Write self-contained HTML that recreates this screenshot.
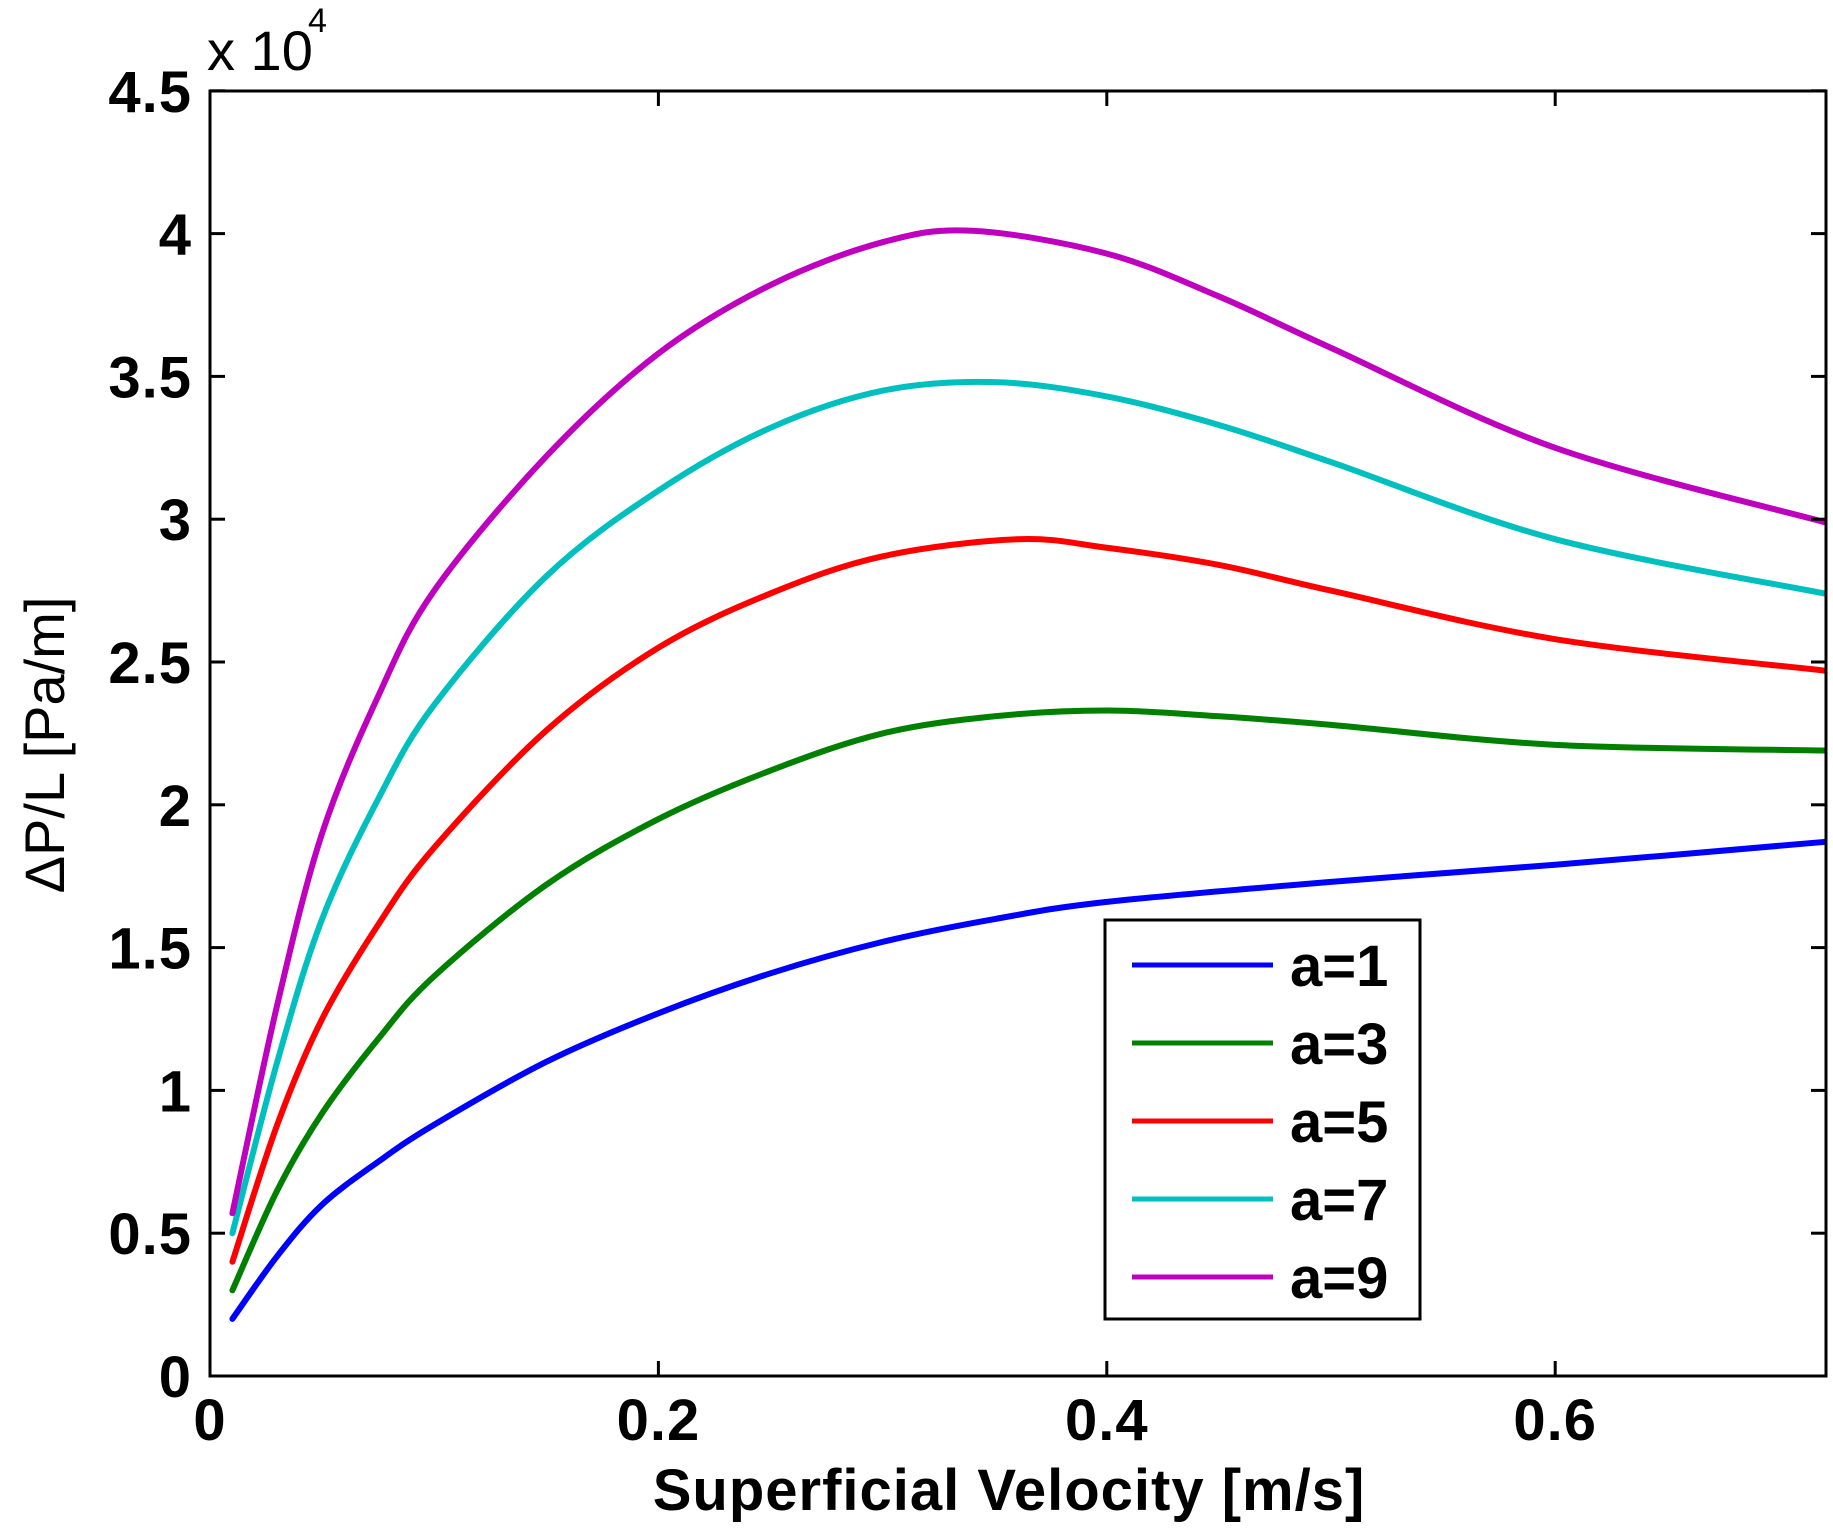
<!DOCTYPE html>
<html><head><meta charset="utf-8"><style>
html,body{margin:0;padding:0;background:#fff;}
svg{display:block;font-family:"Liberation Sans",Arial,sans-serif;}
text{font-weight:bold;}
</style></head><body>
<svg id="s" width="1833" height="1528" viewBox="0 0 1833 1528" xmlns="http://www.w3.org/2000/svg">
<rect width="1833" height="1528" fill="#fff"/>
<g id="curves" fill="none" stroke-width="6" stroke-linejoin="round" stroke-linecap="round"></g>
<rect x="210" y="91" width="1616" height="1285" fill="none" stroke="#000" stroke-width="3"/>
<g id="ticks" stroke="#000" stroke-width="3"></g>
<g id="labels" font-size="58" fill="#000"></g>
<text x="207" y="70" font-size="56" style="font-weight:normal">x 10</text>
<text x="308" y="32" font-size="34" style="font-weight:normal">4</text>
<text x="1009" y="1510" font-size="58" text-anchor="middle" letter-spacing="1">Superficial Velocity [m/s]</text>
<text transform="translate(64,745) rotate(-90)" font-size="56" text-anchor="middle" style="font-weight:normal">ΔP/L [Pa/m]</text>
<rect x="1105" y="920" width="315" height="399" fill="#fff" stroke="#000" stroke-width="3"/>
<g id="leg" font-size="58"></g>
</svg>
<script>
var X=function(v){return 210+v*2242;},Y=function(v){return 1376-v*285.6;};
var data=[
["#0000ff",[[0.01,0.2],[0.03,0.42],[0.05,0.6],[0.075,0.75],[0.1,0.88],[0.15,1.1],[0.2,1.27],[0.25,1.41],[0.3,1.52],[0.35,1.6],[0.4,1.66],[0.5,1.73],[0.6,1.79],[0.72,1.87]]],
["#008000",[[0.01,0.3],[0.03,0.65],[0.05,0.92],[0.075,1.18],[0.1,1.4],[0.15,1.72],[0.2,1.95],[0.25,2.12],[0.3,2.25],[0.35,2.31],[0.4,2.33],[0.45,2.31],[0.5,2.28],[0.6,2.21],[0.72,2.19]]],
["#ff0000",[[0.01,0.4],[0.03,0.88],[0.05,1.25],[0.075,1.58],[0.1,1.85],[0.15,2.26],[0.2,2.55],[0.25,2.74],[0.3,2.87],[0.36,2.93],[0.4,2.9],[0.45,2.84],[0.5,2.75],[0.6,2.58],[0.72,2.47]]],
["#00bfbf",[[0.01,0.5],[0.03,1.1],[0.05,1.6],[0.075,2.02],[0.1,2.35],[0.15,2.8],[0.2,3.1],[0.25,3.32],[0.3,3.45],[0.35,3.48],[0.4,3.43],[0.45,3.33],[0.5,3.2],[0.6,2.93],[0.72,2.74]]],
["#bf00bf",[[0.01,0.57],[0.03,1.3],[0.05,1.9],[0.075,2.38],[0.1,2.75],[0.15,3.22],[0.2,3.58],[0.25,3.82],[0.3,3.97],[0.34,4.01],[0.4,3.93],[0.45,3.78],[0.5,3.6],[0.6,3.25],[0.72,2.99]]]];
var ns="http://www.w3.org/2000/svg",cg=document.getElementById("curves");
data.forEach(function(d){var p=d[1].map(function(q){return [X(q[0]),Y(q[1])];});
var s="M"+p[0][0]+","+p[0][1];
for(var i=0;i<p.length-1;i++){var a=p[i-1]||p[i],b=p[i],c=p[i+1],e=p[i+2]||c;
s+=" C"+(b[0]+(c[0]-a[0])/6)+","+(b[1]+(c[1]-a[1])/6)+" "+(c[0]-(e[0]-b[0])/6)+","+(c[1]-(e[1]-b[1])/6)+" "+c[0]+","+c[1];}
var el=document.createElementNS(ns,"path");el.setAttribute("d",s);el.setAttribute("stroke",d[0]);cg.appendChild(el);});
var tg=document.getElementById("ticks"),lg=document.getElementById("labels");
function ln(x1,y1,x2,y2){var l=document.createElementNS(ns,"line");l.setAttribute("x1",x1);l.setAttribute("y1",y1);l.setAttribute("x2",x2);l.setAttribute("y2",y2);tg.appendChild(l);}
function tx(x,y,t,a){var e=document.createElementNS(ns,"text");e.setAttribute("x",x);e.setAttribute("y",y);e.setAttribute("text-anchor",a);e.setAttribute("letter-spacing","1");e.textContent=t;lg.appendChild(e);}
[0,0.2,0.4,0.6].forEach(function(v){var x=X(v);ln(x,1376,x,1361);ln(x,91,x,106);tx(x,1440,v==0?"0":String(v),"middle");});
for(var k=0;k<=9;k++){var v=k*0.5,y=Y(v);ln(210,y,225,y);ln(1826,y,1811,y);tx(192,y+21,v==0?"0":String(v),"end");}
var leg=document.getElementById("leg");
["a=1","a=3","a=5","a=7","a=9"].forEach(function(t,i){var y=965+i*78;
var l=document.createElementNS(ns,"line");l.setAttribute("x1",1132);l.setAttribute("x2",1273);l.setAttribute("y1",y);l.setAttribute("y2",y);l.setAttribute("stroke",data[i][0]);l.setAttribute("stroke-width",5);leg.appendChild(l);
var e=document.createElementNS(ns,"text");e.setAttribute("x",1290);e.setAttribute("y",y+21);e.textContent=t;leg.appendChild(e);});
</script>
</body></html>
